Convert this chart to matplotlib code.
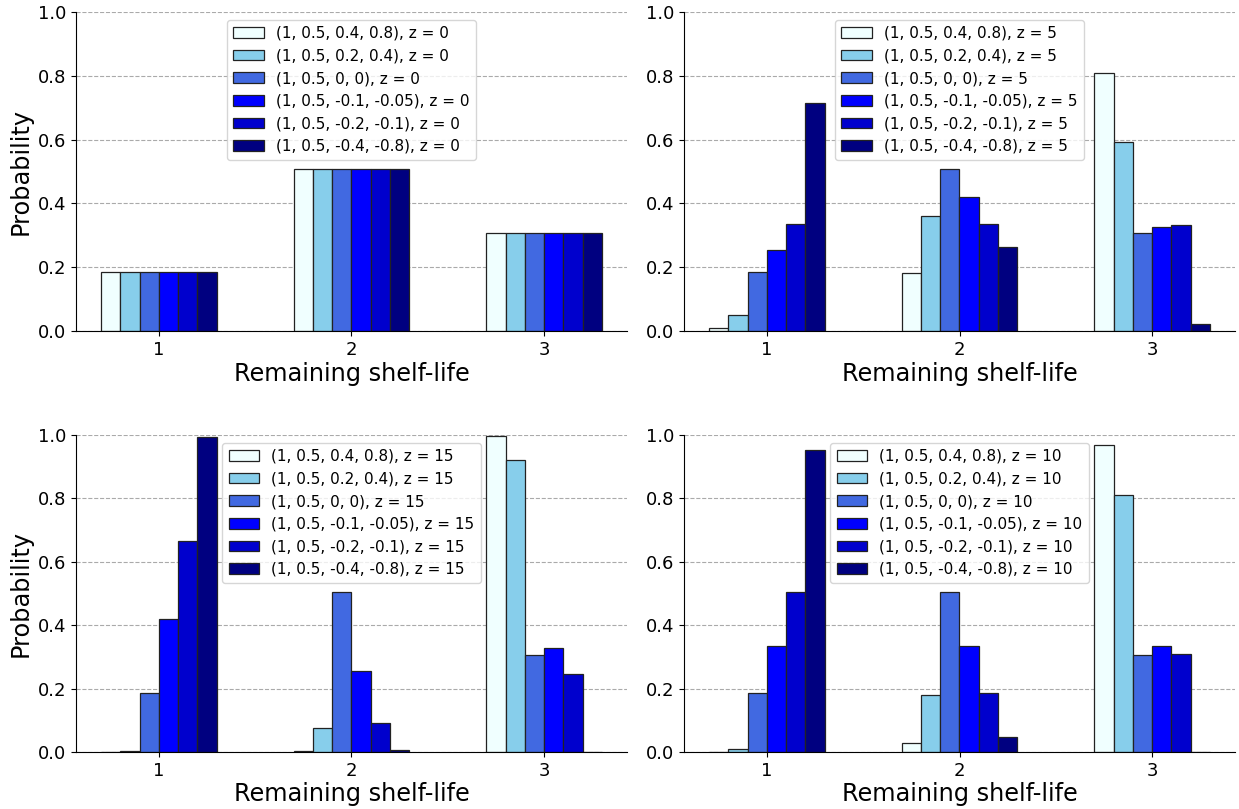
import matplotlib
matplotlib.use("Agg")
import matplotlib.pyplot as plt
import numpy as np

shelf_life = [1, 2, 3]
params = ["(1, 0.5, 0.4, 0.8)", "(1, 0.5, 0.2, 0.4)", "(1, 0.5, 0, 0)",
          "(1, 0.5, -0.1, -0.05)", "(1, 0.5, -0.2, -0.1)", "(1, 0.5, -0.4, -0.8)"]
colors = ["azure", "skyblue", "royalblue", "blue", "mediumblue", "navy"]

# probabilities per parameter set, for shelf-life 1, 2, 3
probs_z0 = [
    [0.186, 0.507, 0.307],
    [0.186, 0.507, 0.307],
    [0.186, 0.507, 0.307],
    [0.186, 0.507, 0.307],
    [0.186, 0.507, 0.307],
    [0.186, 0.507, 0.307],
]
probs_z5 = [
    [0.009, 0.181, 0.810],
    [0.049, 0.359, 0.592],
    [0.186, 0.507, 0.307],
    [0.255, 0.420, 0.326],
    [0.334, 0.334, 0.333],
    [0.714, 0.263, 0.023],
]
probs_z15 = [
    [0.000, 0.004, 0.996],
    [0.002, 0.075, 0.922],
    [0.187, 0.506, 0.307],
    [0.419, 0.255, 0.327],
    [0.665, 0.090, 0.245],
    [0.993, 0.007, 0.001],
]
probs_z10 = [
    [0.001, 0.029, 0.970],
    [0.009, 0.180, 0.810],
    [0.186, 0.506, 0.307],
    [0.333, 0.333, 0.333],
    [0.506, 0.186, 0.308],
    [0.952, 0.048, 0.000],
]

panels = [(probs_z0, 0), (probs_z5, 5), (probs_z15, 15), (probs_z10, 10)]

fig = plt.figure(figsize=(12.39, 8.09), dpi=100)
W, H = 1239, 809
positions = [
    [76 / W, 1 - 331 / H, 551 / W, 319 / H],
    [684 / W, 1 - 331 / H, 551 / W, 319 / H],
    [76 / W, 1 - 752 / H, 551 / W, 317 / H],
    [684 / W, 1 - 752 / H, 551 / W, 317 / H],
]

width = 0.1
x = np.array(shelf_life, dtype=float)
for k, ((probs, z), pos) in enumerate(zip(panels, positions)):
    ax = fig.add_axes(pos)
    for i, (p, c, lab) in enumerate(zip(probs, colors, params)):
        ax.bar(x + (i - 2.5) * width, p, width=width, color=c, edgecolor="#222222",
               linewidth=0.9, label=f"{lab}, z = {z}")
    ax.set_ylim(0, 1.0)
    ax.set_xticks(shelf_life)
    ax.set_yticks(np.arange(0, 1.01, 0.2))
    ax.yaxis.grid(True, linestyle="--", color="#aaaaaa", linewidth=0.8)
    ax.set_axisbelow(True)
    ax.spines["top"].set_visible(False)
    ax.spines["right"].set_visible(False)
    ax.tick_params(labelsize=13)
    ax.set_xlabel("Remaining shelf-life", fontsize=17.3, labelpad=2)
    if k % 2 == 0:
        ax.set_ylabel("Probability", fontsize=17.3)
    ax.legend(loc="upper center", fontsize=11)

fig.savefig("out.png", dpi=100)
